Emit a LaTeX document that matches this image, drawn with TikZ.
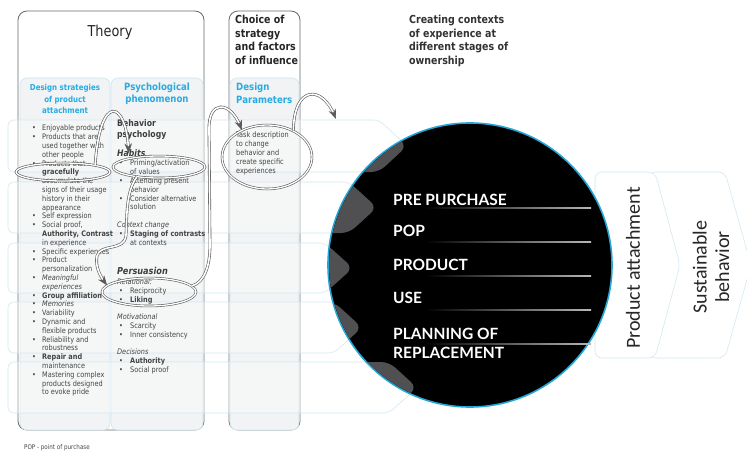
\documentclass[tikz,border=0pt]{standalone}
\usepackage{fontspec}
\setmainfont{DejaVu Sans}[FakeStretch=0.86]
\newfontfamily\circfont{Lato}
\newfontfamily\sidefont{Carlito}
\usetikzlibrary{shapes.geometric,arrows.meta}
\definecolor{cy}{RGB}{41,171,226}
\definecolor{txt}{RGB}{68,68,68}
\definecolor{boxline}{RGB}{105,105,105}
\definecolor{subfill}{RGB}{241,243,244}
\definecolor{subline}{RGB}{205,230,242}
\definecolor{rowline}{RGB}{212,232,242}
\definecolor{tipgray}{RGB}{80,80,82}
\definecolor{ringblue}{RGB}{35,165,215}
\definecolor{loop}{RGB}{90,90,90}
\newcommand\bl{\makebox[10pt][l]{\textbullet}}
\newcommand\ind{\hspace*{10pt}}
\newcommand\bm{\makebox[11pt][l]{\textbullet}}
\newcommand\im{\hspace*{11pt}}
\tikzset{
 bigbox/.style={draw=boxline, line width=0.8pt, rounded corners=9pt, fill=white},
 subbox/.style={draw=subline, line width=0.6pt, rounded corners=7pt, fill=subfill},
 rowshape/.style={draw=rowline, line width=0.6pt, rounded corners=6pt, fill=white, fill opacity=0.35},
 chev/.style={draw=rowline, line width=0.6pt, rounded corners=7pt, fill=white},
 body/.style={inner sep=0pt, anchor=north west, align=left, text=txt, font=\fontsize{7.6}{8.8}\selectfont},
 subhead/.style={inner sep=0pt, anchor=north west, align=left, text=txt!90!black},
 cyhead/.style={inner sep=0pt, text=cy, align=center},
 ring/.style={ellipse, draw=loop, double=white, double distance=1.3pt, line width=0.6pt, inner sep=0pt},
 flow/.style={draw=loop, double=white, double distance=1.6pt, line width=0.6pt, shorten >=4pt},
 flowtip/.style={draw=loop, line width=0.6pt, dash pattern=on 0pt off 3000pt, -{Stealth[length=10pt,width=7.5pt]}},
 stage/.style={inner sep=0pt, anchor=west, text=white, font=\circfont\bfseries\fontsize{15.5}{16}\selectfont},
}
\begin{document}
\begin{tikzpicture}[x=1pt,y=-1pt]
\useasboundingbox (0,0) rectangle (747,452);
\fill[white] (0,0) rectangle (747,452);
% main boxes
\draw[bigbox] (18,11) rectangle (204,430);
\draw[bigbox] (229,11) rectangle (300,430);
\draw[subbox] (20,78) rectangle (110,430);
\draw[subbox] (111,78) rectangle (203,430);
\draw[subbox] (230,78) rectangle (299,430);
% background rows
\draw[rowshape] (8,120) -- (379,120) -- (407,146) -- (379,172) -- (8,172) -- cycle;
\draw[rowshape] (8,182) -- (349,182) -- (377,207.5) -- (349,233) -- (8,233) -- cycle;
\draw[rowshape] (8,243) -- (325,243) -- (353,268) -- (325,293) -- (8,293) -- cycle;
\draw[rowshape] (8,302) -- (334,302) -- (362,327.5) -- (334,353) -- (8,353) -- cycle;
\draw[rowshape] (8,362) -- (389,362) -- (417,387.5) -- (389,413) -- (8,413) -- cycle;
% right chevrons
\draw[chev] (648,172) -- (725,172) -- (751,265) -- (725,358) -- (648,358) -- (673,265) -- cycle;
\draw[chev] (595,172) -- (655,172) -- (680,265) -- (655,358) -- (595,358) -- cycle;
% circle
\node[circle, minimum size=284pt, inner sep=0pt, fill=black, draw=ringblue, line width=1.6pt] (ring) at (470,265) {};
\begin{scope}
\clip (ring.center) circle (141);
\fill[tipgray, rounded corners=8pt] (8,120) -- (379,120) -- (407,146) -- (379,172) -- (8,172) -- cycle;
\fill[tipgray, rounded corners=8pt] (8,182) -- (349,182) -- (377,207.5) -- (349,233) -- (8,233) -- cycle;
\fill[tipgray, rounded corners=8pt] (8,243) -- (325,243) -- (353,268) -- (325,293) -- (8,293) -- cycle;
\fill[tipgray, rounded corners=8pt] (8,302) -- (334,302) -- (362,327.5) -- (334,353) -- (8,353) -- cycle;
\fill[tipgray, rounded corners=8pt] (8,362) -- (389,362) -- (417,387.5) -- (389,413) -- (8,413) -- cycle;
\end{scope}
\foreach \yy in {208,242,276,310,344}{
  \shade[left color=black, right color=white!72!black] (425,\yy-0.6) rectangle (591,\yy+0.6);
}
\node[stage] (s1) at (393,200) {PRE PURCHASE};
\node[stage] (s2) at (393,231) {POP};
\node[stage] (s3) at (393,265) {PRODUCT};
\node[stage] (s4) at (393,298) {USE};
\node[stage, align=left, font=\circfont\bfseries\fontsize{15.5}{19}\selectfont] (s5) at (393,343) {PLANNING OF\\REPLACEMENT};
% right labels
\node[rotate=90, inner sep=0pt, text=black!85, font=\sidefont\fontsize{20}{22}\selectfont] (pa) at (633,268) {Product attachment};
\node[rotate=90, inner sep=0pt, align=center, text=black!85, font=\sidefont\fontsize{20}{22.5}\selectfont] (sb) at (711,267) {Sustainable\\behavior};
% titles
\node[inner sep=0pt, text=black!85, font=\fontsize{15}{18}\selectfont] (theory) at (110,32) {Theory};
\node[inner sep=0pt, anchor=north west, align=left, text=black!85, font=\bfseries\fontsize{11}{13.7}\selectfont] (choice) at (235,15) {Choice of\\strategy\\and factors\\of influence};
\node[inner sep=0pt, anchor=north west, align=left, text=black!80, font=\bfseries\fontsize{11}{13.7}\selectfont] (ctxt) at (409,15) {Creating contexts\\of experience at\\different stages of\\ownership};
\node[cyhead, font=\bfseries\fontsize{8.2}{11.2}\selectfont] (h1) at (65,99) {Design strategies\\of product\\attachment};
\node[cyhead, font=\bfseries\fontsize{10}{12}\selectfont] (h2) at (157,94) {Psychological\\phenomenon};
\node[cyhead, anchor=north west, align=left, font=\bfseries\fontsize{10}{13}\selectfont] (h3) at (236,83) {Design\\Parameters};
% left list
\node[body] (list1) at (32,125) {\bl Enjoyable products\\
\bl Products that are\\ \ind used together with\\ \ind other people\\
\bl Products that\\ \ind \textbf{gracefully}\\ \ind accumulate the\\ \ind signs of their usage\\ \ind history in their\\ \ind appearance\\
\bl Self expression\\
\bl Social proof,\\ \ind \textbf{Authority, Contrast}\\ \ind in experience\\
\bl Specific experiences\\
\bl Product\\ \ind personalization\\
\bl \textit{Meaningful}\\ \ind \textit{experiences}\\
\bl \textbf{Group affiliation}\\
\bl \textit{Memories}\\
\bl Variability\\
\bl Dynamic and\\ \ind flexible products\\
\bl Reliability and\\ \ind robustness\\
\bl \textbf{Repair and}\\ \ind maintenance\\
\bl Mastering complex\\ \ind products designed\\ \ind to evoke pride};
% middle column
\node[subhead, font=\bfseries\fontsize{9}{11}\selectfont] (bp) at (117,119) {Behavior\\psychology};
\node[subhead, font=\bfseries\itshape\fontsize{9}{11}\selectfont] (hab) at (117,149) {Habits};
\node[body] (hl) at (119,160) {\bm Priming/activation\\ \im of values\\ \bm Attending present\\ \im behavior\\ \bm Consider alternative\\ \im solution};
\node[body, font=\itshape\fontsize{7.6}{8.8}\selectfont] (cc) at (117,222) {Context change};
\node[body] (cl) at (119,231) {\bm \textbf{Staging of contrasts}\\ \im at contexts};
\node[subhead, font=\bfseries\itshape\fontsize{9.5}{11}\selectfont] (pers) at (117,267) {Persuasion};
\node[body, font=\itshape\fontsize{7.6}{8.8}\selectfont] (rel) at (117,279) {Relational:};
\node[body] (rl) at (119,288) {\bm Reciprocity\\ \bm \textbf{Liking}};
\node[body, font=\itshape\fontsize{7.6}{8.8}\selectfont] (mot) at (117,314) {Motivational};
\node[body] (ml) at (119,323) {\bm Scarcity\\ \bm Inner consistency};
\node[body, font=\itshape\fontsize{7.6}{8.8}\selectfont] (dec) at (117,349) {Decisions};
\node[body] (dl) at (119,358) {\bm \textbf{Authority}\\ \bm Social proof};
% design parameters text
\node[body] (task) at (236,132) {Task description\\to change\\behavior and\\create specific\\experiences};
% footer
\node[inner sep=0pt, anchor=west, text=txt, font=\fontsize{6.5}{8}\selectfont] (foot) at (24,448) {POP - point of purchase};
% ellipses
\node[ring, minimum width=94pt, minimum height=18pt] (e1) at (63,172) {};
\node[ring, minimum width=92pt, minimum height=22pt] (e2) at (159,167) {};
\node[ring, minimum width=94pt, minimum height=28pt] (e3) at (149,292) {};
\node[ring, minimum width=90pt, minimum height=64pt] (e4) at (267,157) {};
\coordinate (ctx) at (336,119);
% arrows: double line, then a solid tip along the same route
\draw[flow, shorten >=9pt] (e1.12) .. controls (100,92) and (126,100) .. (e2.164);
\draw[flowtip, shorten >=5pt] (e1.12) .. controls (100,92) and (126,100) .. (e2.164);
\draw[flow] (e2.204) .. controls (126,192) and (127,215) .. (126,235) .. controls (125,252) and (100,243) .. (97,256) .. controls (95,266) and (100,276) .. (e3.171);
\draw[flowtip] (e2.204) .. controls (126,192) and (127,215) .. (126,235) .. controls (125,252) and (100,243) .. (97,256) .. controls (95,266) and (100,276) .. (e3.171);
\draw[flow] (e3.8) .. controls (205,282) and (210,265) .. (210,245) -- (209,130) .. controls (208,100) and (230,100) .. (e4.133);
\draw[flowtip] (e3.8) .. controls (205,282) and (210,265) .. (210,245) -- (209,130) .. controls (208,100) and (230,100) .. (e4.133);
\draw[flow] (e4.45) .. controls (294,85) and (322,85) .. (ctx);
\draw[flowtip] (e4.45) .. controls (294,85) and (322,85) .. (ctx);
\end{tikzpicture}
\end{document}
